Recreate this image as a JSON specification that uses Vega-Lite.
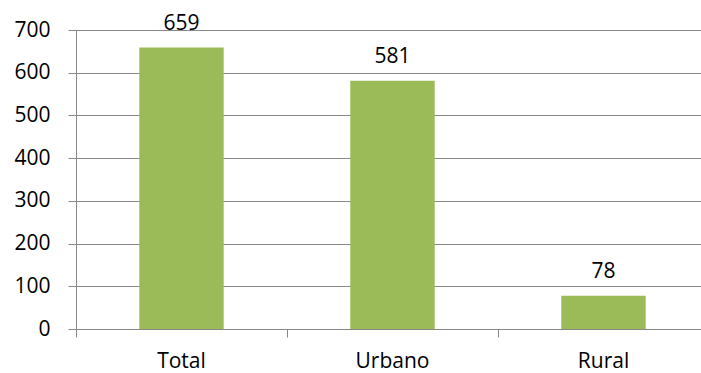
{
  "$schema": "https://vega.github.io/schema/vega-lite/v6.json",
  "autosize": "none",
  "padding": {"left": 76, "top": 30, "right": 0, "bottom": 44},
  "width": 633,
  "height": 299,
  "background": "white",
  "config": {"view": {"stroke": null}, "font": "Open Sans"},
  "data": {"values": [
    {"categoria": "Total", "valor": 659},
    {"categoria": "Urbano", "valor": 581},
    {"categoria": "Rural", "valor": 78}
  ]},
  "encoding": {
    "x": {"field": "categoria", "type": "nominal", "sort": null,
      "scale": {"paddingInner": 0, "paddingOuter": 0},
      "axis": {"title": null, "labelAngle": 0, "bandPosition": 0, "domainColor": "#888888", "tickColor": "#888888", "tickSize": 8, "labelFontSize": 21, "labelColor": "#000000", "labelPadding": 13, "grid": false, "labelFont": "Open Sans"}},
    "y": {"field": "valor", "type": "quantitative",
      "scale": {"domain": [0, 700]},
      "axis": {"title": null, "values": [0,100,200,300,400,500,600,700], "domainColor": "#888888", "tickColor": "#888888", "tickSize": 8, "gridColor": "#888888", "labelFontSize": 21, "labelColor": "#000000", "labelPadding": 18, "labelFont": "Open Sans"}}
  },
  "layer": [
    {"mark": {"type": "bar", "color": "#9BBB59", "width": {"band": 0.4}}},
    {"mark": {"type": "text", "fontSize": 21, "dy": -18, "baseline": "alphabetic", "color": "#000000", "font": "Open Sans"},
     "encoding": {"text": {"field": "valor", "type": "quantitative"}}}
  ]
}
